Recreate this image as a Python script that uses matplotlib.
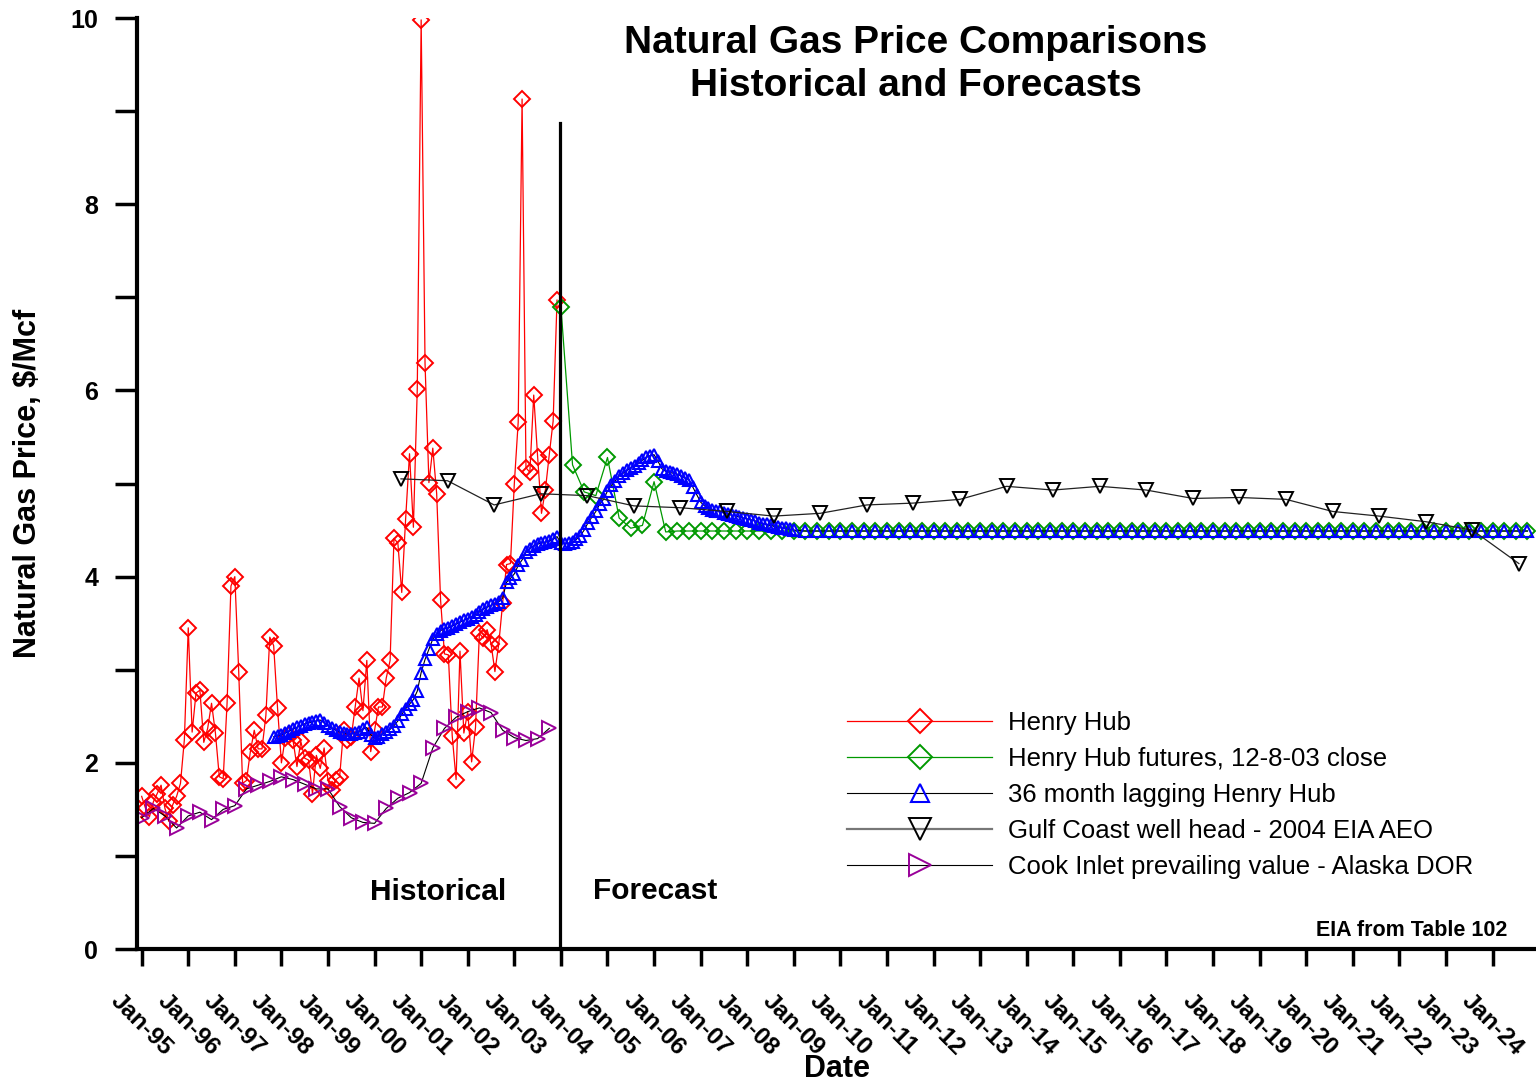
import matplotlib
matplotlib.use("Agg")
import matplotlib.pyplot as plt

plt.rcParams['font.family'] = ['Liberation Sans', 'DejaVu Sans']

# x values are months counted from Jan-95
tick_years = list(range(1995, 2025))
tick_labels = ["Jan-%02d" % (y % 100) for y in tick_years]

# Henry Hub monthly, Jan-95 .. Dec-03
hh_x = list(range(0, 108))
hh_price = [1.64, 1.51, 1.42, 1.58, 1.67, 1.76, 1.51, 1.37, 1.55, 1.64, 1.78, 2.25,
            3.45, 2.33, 2.75, 2.78, 2.22, 2.37, 2.64, 2.32, 1.85, 1.83, 2.64, 3.90,
            4.00, 2.98, 1.78, 1.81, 2.12, 2.35, 2.15, 2.15, 2.51, 3.35, 3.26, 2.59,
            2.00, 2.27, 2.30, 2.24, 1.96, 2.23, 2.05, 2.03, 1.67, 2.08, 1.94, 2.16,
            1.81, 1.71, 1.82, 1.85, 2.35, 2.24, 2.28, 2.60, 2.91, 2.56, 3.10, 2.12,
            2.35, 2.60, 2.60, 2.91, 3.10, 4.41, 4.36, 3.83, 4.62, 5.32, 4.53, 6.02,
            9.98, 6.29, 5.01, 5.38, 4.89, 3.75, 3.17, 3.16, 2.29, 1.82, 3.20, 2.32,
            2.55, 2.01, 2.38, 3.39, 3.34, 3.43, 3.28, 2.98, 3.28, 3.72, 4.13, 4.14,
            5.00, 5.66, 9.13, 5.17, 5.12, 5.95, 5.29, 4.68, 4.93, 5.31, 5.67, 6.97]

# Henry Hub futures (12-8-03 close), quarterly from Jan-04
fut_x = list(range(108, 358, 3))
fut_price = [6.90, 5.20, 4.91, 4.87, 5.28, 4.63, 4.52, 4.55, 5.02, 4.48] + [4.49] * 74  # flat after 2006

# 36 month lagging Henry Hub: monthly Nov-97 .. Jan-09, then quarterly
lag_x = list(range(34, 169)) + list(range(171, 358, 3))
lag_price = [2.28, 2.29,
             2.30, 2.32, 2.34, 2.36, 2.38, 2.40, 2.42, 2.43, 2.44, 2.45, 2.46, 2.43,
             2.40, 2.37, 2.35, 2.33, 2.32, 2.31, 2.31, 2.32, 2.33, 2.36, 2.38, 2.30,
             2.27, 2.28, 2.31, 2.33, 2.36, 2.40, 2.45, 2.52, 2.58, 2.63, 2.68, 2.77,
             2.97, 3.11, 3.22, 3.33, 3.38, 3.42, 3.44, 3.45, 3.47, 3.49, 3.51, 3.53,
             3.55, 3.57, 3.59, 3.62, 3.65, 3.67, 3.69, 3.71, 3.73, 3.77, 3.94, 3.98,
             4.03, 4.12, 4.18, 4.26, 4.30, 4.33, 4.35, 4.36, 4.37, 4.38, 4.40, 4.43,
             4.36, 4.35, 4.36, 4.37, 4.40, 4.44, 4.50, 4.58, 4.64, 4.70, 4.78, 4.83,
             4.92, 4.98, 5.03, 5.08, 5.11, 5.14, 5.17, 5.19, 5.22, 5.25, 5.28, 5.30,
             5.31, 5.24, 5.16, 5.13, 5.12, 5.11, 5.10, 5.08, 5.06, 5.04, 4.96, 4.88,
             4.80, 4.76, 4.74, 4.72, 4.71, 4.70, 4.68, 4.67, 4.66, 4.65, 4.64, 4.63,
             4.62, 4.61, 4.60, 4.58, 4.57, 4.56, 4.55, 4.54, 4.53, 4.52, 4.52, 4.51,
             4.50] + [4.49] * 63

# Gulf Coast well head - 2004 EIA AEO, yearly (mid-year) 2000..2024
gulf_x = [66.8 + 12 * k for k in range(25)]
gulf_price = [5.05, 5.03, 4.77, 4.89, 4.87, 4.76, 4.74, 4.70, 4.65, 4.68, 4.77, 4.79, 4.83,
              4.97, 4.93, 4.97, 4.93, 4.84, 4.85, 4.83, 4.70, 4.65, 4.59, 4.50, 4.14]

# Cook Inlet prevailing value - Alaska DOR, quarterly Jan-95 .. Oct-03
cook_x = list(range(0, 108, 3))
cook_price = [1.41, 1.51, 1.43, 1.30, 1.43, 1.47, 1.39, 1.50, 1.54, 1.72, 1.76, 1.80,
              1.85, 1.82, 1.77, 1.72, 1.72, 1.53, 1.41, 1.36, 1.35, 1.51, 1.62, 1.68,
              1.78, 2.16, 2.37, 2.49, 2.55, 2.59, 2.54, 2.35, 2.27, 2.24, 2.26, 2.37]

fig = plt.figure(figsize=(15.36, 10.85), dpi=100)
ax = fig.add_axes([0.0892, 0.1253, 0.9108, 0.8581])

ax.plot(hh_x, hh_price, color='#ff0000', lw=0.9, marker='D', ms=8.5,
        mfc='none', mec='#ff0000', mew=1.4, label='Henry Hub')
ax.plot(fut_x, fut_price, color='#009900', lw=0.9, marker='D', ms=8.5,
        mfc='none', mec='#009900', mew=1.4, label='Henry Hub futures, 12-8-03 close')
ax.plot(lag_x, lag_price, color='black', lw=0.8, marker='^', ms=8.5,
        mfc='none', mec='#0000ff', mew=1.5, label='36 month lagging Henry Hub')
ax.plot(gulf_x, gulf_price, color='#222222', lw=0.9, marker='v', ms=10.5,
        mfc='none', mec='black', mew=1.4, label='Gulf Coast well head - 2004 EIA AEO')
ax.plot(cook_x, cook_price, color='black', lw=0.8, marker='>', ms=10.5,
        mfc='none', mec='#990099', mew=1.4, label='Cook Inlet prevailing value - Alaska DOR')

# Historical / Forecast divider
ax.plot([107.7, 107.7], [0, 8.87], color='black', lw=2.3)

ax.set_xlim(-1.2, 359.2)
ax.set_ylim(0, 10)
ax.spines['top'].set_visible(False)
ax.spines['right'].set_visible(False)
ax.spines['left'].set_linewidth(3)
ax.spines['bottom'].set_linewidth(3)

ax.set_xticks([12 * (y - 1995) for y in tick_years])
ax.set_xticklabels(tick_labels, rotation=-45, ha='center', va='top',
                   fontsize=17.5, fontweight='bold')
ax.set_yticks([0, 2, 4, 6, 8, 10])
ax.set_yticks([1, 3, 5, 7, 9], minor=True)
ax.set_yticklabels(['0', '2', '4', '6', '8', '10'], fontsize=18, fontweight='bold')
ax.tick_params(axis='x', which='major', direction='out', length=12, width=2.5, pad=17)
ax.tick_params(axis='y', which='both', direction='out', length=16, width=2.5, pad=12)

ax.set_xlabel('Date', fontsize=22, fontweight='bold', labelpad=-4)
ax.set_ylabel('Natural Gas Price, $/Mcf', fontsize=22, fontweight='bold')
ax.yaxis.set_label_coords(-0.0672, 0.5)

fig.text(0.596, 0.977, 'Natural Gas Price Comparisons\nHistorical and Forecasts',
         ha='center', va='top', fontsize=28, fontweight='bold', linespacing=1.25)
fig.text(438 / 1536, 1 - 892 / 1085, 'Historical', ha='center', va='center',
         fontsize=21.5, fontweight='bold')
fig.text(655 / 1536, 1 - 891 / 1085, 'Forecast', ha='center', va='center',
         fontsize=21.5, fontweight='bold')
fig.text(1507 / 1536, 1 - 930 / 1085, 'EIA from Table 102', ha='right', va='center',
         fontsize=15.5, fontweight='bold')

leg = fig.legend(loc='center left', bbox_to_anchor=(847 / 1536, 1 - 795 / 1085),
                 frameon=False, fontsize=18.5, handlelength=5.66, handletextpad=0.62,
                 labelspacing=0.47, borderpad=0, borderaxespad=0, markerscale=1.45)
leg.get_lines()[3].set_color('#777777')
leg.get_lines()[3].set_linewidth(1.6)

fig.savefig('out.png', dpi=100)
